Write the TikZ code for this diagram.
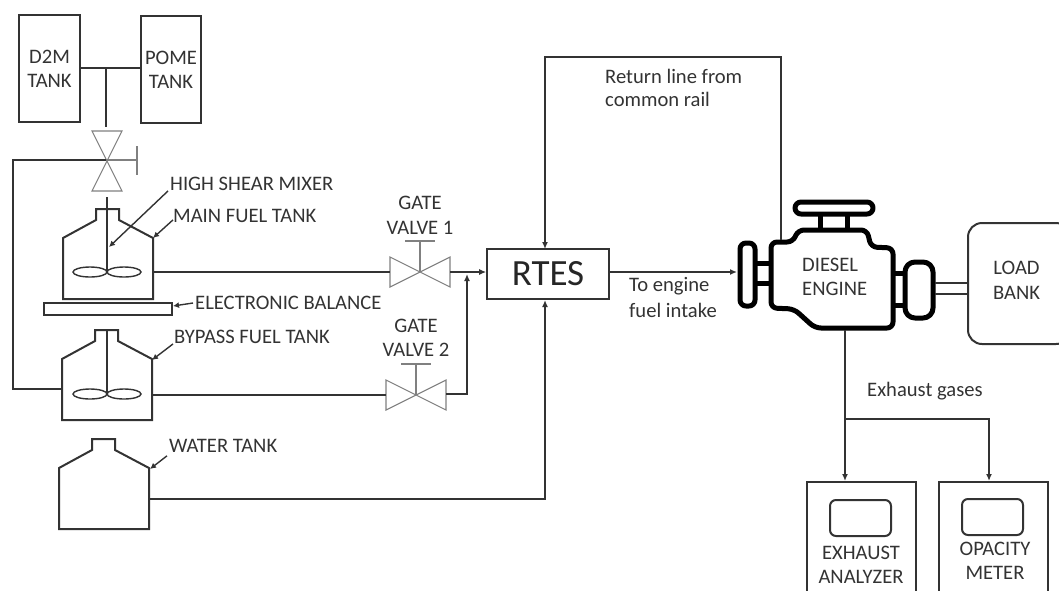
\documentclass[tikz,border=0pt]{standalone}
\usepackage{fontspec}
\setmainfont{Carlito}
\usetikzlibrary{arrows.meta}
\definecolor{inkdark}{HTML}{333333}
\tikzset{
	pipe/.style={draw=inkdark, line width=1.6pt}
}
\tikzset{
	flow/.style={pipe, -{Latex[length=7pt,width=6pt]}}
}
\tikzset{
	leader/.style={draw=inkdark, line width=1.4pt, -{Latex[length=6pt,width=6pt]}}
}
\tikzset{
	tankwall/.style={draw=inkdark, line width=2pt}
}
\tikzset{
	valvegray/.style={draw=black!50, line width=1.1pt}
}
\tikzset{
	enginewall/.style={draw=black, line width=5pt, line join=round}
}
\tikzset{
	lab/.style={font=\fontsize{20.6}{24}\selectfont, text=inkdark, inner sep=0pt}
}
\tikzset{
	leftlab/.style={lab, anchor=west}
}
\newcommand{\tankbody}[4]{
  % #1 left, #2 neck top, #3 bottom, #4 shoulder drop
  \draw[tankwall] (#1,#3) -- (#1,#2+29) -- (#1+33,#2+#4) -- (#1+33,#2) -- (#1+56,#2)
    -- (#1+56,#2+#4) -- (#1+90,#2+29) -- (#1+90,#3) -- cycle;
}
\newcommand{\mixer}[2]{
  \draw[pipe] (#1,#2-64) -- (#1,#2);
  \draw[draw=inkdark, line width=1.4pt] (#1-17,#2) ellipse (17 and 5);
  \draw[draw=inkdark, line width=1.4pt] (#1+17,#2) ellipse (17 and 5);
}
\newcommand{\gatevalve}[2]{
  \draw[valvegray] (#1-30,#2-15) -- (#1-30,#2+15) -- (#1+30,#2-15) -- (#1+30,#2+15) -- cycle;
  \draw[valvegray] (#1,#2) -- (#1,#2-31) (#1-15,#2-31) -- (#1+15,#2-31);
}
\begin{document}
\begin{tikzpicture}[x=1pt,y=-1pt]
  \useasboundingbox (0,0) rectangle (1059,590);
  % supply tanks
  \node[tankwall, minimum width=61pt, minimum height=107pt, lab, draw, align=center] (dtank) at (49.5,68.5) {D2M\\TANK};
  \node[tankwall, minimum width=60pt, minimum height=107pt, lab, draw, align=center] (ptank) at (171,69.5) {POME\\TANK};
  \coordinate (tee) at (106,68);
  \coordinate (valvein) at (106,127);
  \draw[pipe] (dtank.east |- tee) -- (ptank.west |- tee);
  \draw[pipe] (tee) -- (valvein);
  % three way valve
  \coordinate (tvalve) at (106,160);
  \draw[valvegray] (92,131) -- (122,131) -- (92,191) -- (122,191) -- cycle;
  \draw[valvegray] (tvalve) -- (137,160) (137,146) -- (137,175);
  \coordinate (bypassin) at (62,389);
  \draw[pipe] (tvalve) -- (13,160) |- (bypassin);
  % tanks
  \tankbody{63}{209}{299}{11}
  \draw[pipe] (107,197) -- (107,209);
  \mixer{107}{272}
  \draw[tankwall, fill=white] (44,303) rectangle (172,315);
  \tankbody{62}{330}{420}{11}
  \mixer{107}{394}
  \tankbody{59}{439}{529}{11}
  % tank labels
  \node[leftlab] (mixerlab) at (170,184) {HIGH SHEAR MIXER};
  \node[leftlab] (mainlab) at (173,216) {MAIN FUEL TANK};
  \node[leftlab] (ballab) at (195,303) {ELECTRONIC BALANCE};
  \node[leftlab] (bypasslab) at (174,337) {BYPASS FUEL TANK};
  \node[leftlab] (waterlab) at (169,446) {WATER TANK};
  \draw[leader] (mixerlab.south west) ++(-2,0) -- (109,247);
  \draw[leader] (mainlab.south west) ++(0,-3) -- (153,238);
  \draw[leader] (ballab.west) ++(-2,0) -- (173,306);
  \draw[leader] (bypasslab.south west) ++(-1,0) -- (152,360);
  \draw[leader] (waterlab.south west) ++(-2,3) -- (150,469);
  % valves
  \gatevalve{420}{272}
  \gatevalve{416}{395}
  \node[lab] (gateone) at (420,203) {GATE};
  \node[lab] (valveone) at (420,228) {VALVE 1};
  \node[lab] (gatetwo) at (416,326) {GATE};
  \node[lab] (valvetwo) at (416,350) {VALVE 2};
  % RTES
  \node[draw=inkdark, line width=1.6pt, minimum width=122pt, minimum height=50pt, inner sep=0pt, font=\fontsize{37}{40}\selectfont, text=black!85] (rtes) at (548,274) {RTES};
  \coordinate (junction) at (467,272);
  \draw[pipe] (153,272) -- (390,272);
  \draw[flow] (450,272) -- (rtes.west |- junction);
  \draw[flow] (446,394) -- (467,394) -- (467,274);
  \draw[pipe] (152,395) -- (386,395);
  \draw[flow] (149,499) -- (545,499) -- (545,300);
  % engine
  \draw[enginewall, rounded corners=6pt] (795,202) rectangle (873,214);
  \draw[enginewall] (820,214) -- (820,229) (847,214) -- (847,229);
  \draw[enginewall, rounded corners=6pt] (798,230) -- (867,230) -- (871,247) -- (893,248)
    -- (893,328) -- (815,328) -- (794,309) -- (771,308) -- (771,242) -- (793,242) -- cycle;
  \draw[enginewall, rounded corners=6pt] (740,243) rectangle (755,306);
  \draw[enginewall] (755,263) -- (771,263) (755,283) -- (771,283);
  \draw[enginewall, rounded corners=10pt] (905,262) rectangle (933,318);
  \draw[enginewall] (893,273) -- (905,273) (893,305) -- (905,305);
  \node[leftlab, align=left] (enginelab) at (802,277) {DIESEL\\ENGINE};
  \coordinate (enginein) at (737,272);
  \coordinate (engineout) at (845,330);
  \coordinate (enginetop) at (781,240);
  \draw[flow] (rtes.east |- enginein) -- (enginein);
  \draw[flow] (enginetop) -- (781,57) -- (545,57) -- (545,249);
  % load bank
  \draw[tankwall, rounded corners=14pt] (968,223) rectangle (1070,344);
  \node[lab] (loadlab) at (1016.5,268) {LOAD};
  \node[lab] (banklab) at (1016.5,293) {BANK};
  \draw[pipe] (935,283) -- (968,283) (935,294) -- (968,294);
  % exhaust
  \coordinate (split) at (845,419);
  \node[tankwall, draw, minimum width=109pt, minimum height=120pt, inner sep=0pt] (analyzer) at (861.5,542) {};
  \node[tankwall, draw, minimum width=109pt, minimum height=120pt, inner sep=0pt] (opacity) at (993.5,542) {};
  \draw[flow] (engineout) -- (analyzer.north -| split);
  \draw[flow] (split) -- (989,419) -- (989,481);
  \draw[tankwall, rounded corners=6pt] (830,500) rectangle (891,536);
  \draw[tankwall, rounded corners=6pt] (962,499) rectangle (1023,535);
  \node[lab] (exlab) at (861,553) {EXHAUST};
  \node[lab] (anlab) at (861,577) {ANALYZER};
  \node[lab] (oplab) at (995,549) {OPACITY};
  \node[lab] (melab) at (995,573) {METER};
  % line labels
  \node[leftlab] (retone) at (605,76) {Return line from};
  \node[leftlab] (rettwo) at (605,99) {common rail};
  \node[leftlab] (intakeone) at (629,286) {To engine};
  \node[leftlab] (intaketwo) at (629,310) {fuel intake};
  \node[leftlab] (gaslab) at (867,391) {Exhaust gases};
\end{tikzpicture}
\end{document}
